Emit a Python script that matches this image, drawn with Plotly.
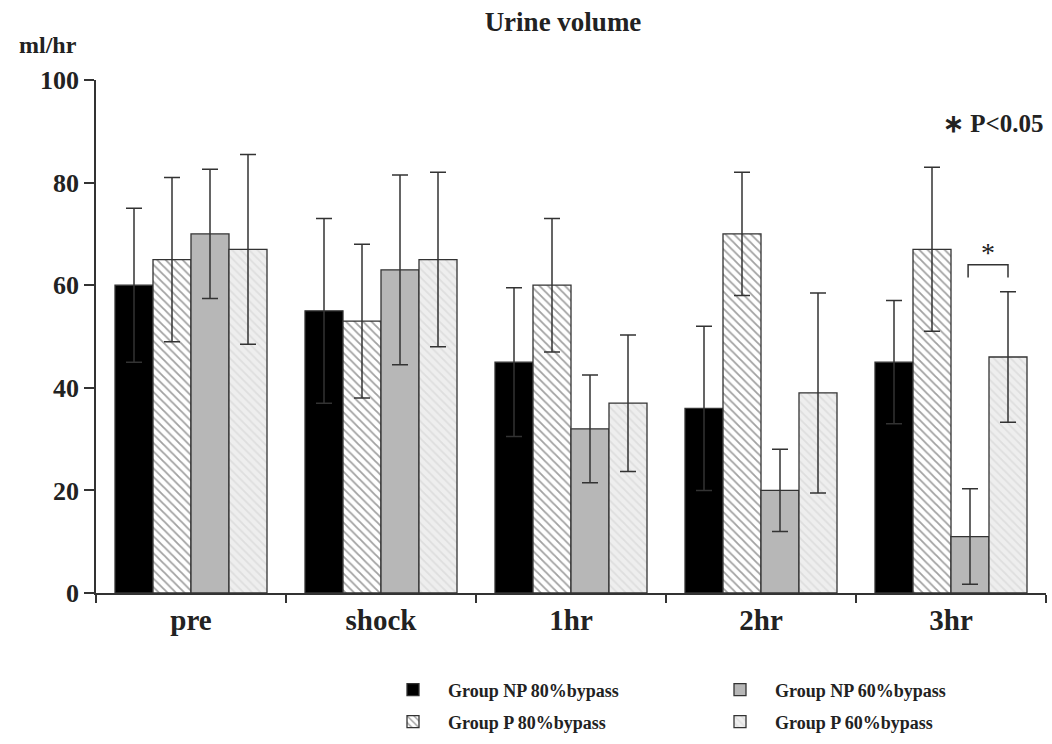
import plotly.graph_objects as go

categories = ["pre", "shock", "1hr", "2hr", "3hr"]
series_names = ["Group NP 80%bypass", "Group P 80%bypass", "Group NP 60%bypass", "Group P 60%bypass"]
np80 = [60, 55, 45, 36, 45]
np80_sd = [15, 18, 14.5, 16, 12]
p80 = [65, 53, 60, 70, 67]
p80_sd = [16, 15, 13, 12, 16]
np60 = [70, 63, 32, 20, 11]
np60_sd = [12.6, 18.5, 10.5, 8, 9.3]
p60 = [67, 65, 37, 39, 46]
p60_sd = [18.5, 17, 13.3, 19.5, 12.7]
y_ticks = [0, 20, 40, 60, 80, 100]

FONT = "Liberation Serif"
OUT = "#333333"
ERR = "#333333"

styles = [
    dict(color="#000000", pattern=None, legend="legend", rank=1),
    dict(color="#ffffff", pattern=dict(shape="\\", fgcolor="#444444", bgcolor="#ffffff", size=6, solidity=0.3), legend="legend2", rank=3),
    dict(color="#b7b7b7", pattern=None, legend="legend", rank=2),
    dict(color="#eeeeee", pattern=dict(shape="\\", fgcolor="#cdcdcd", bgcolor="#eeeeee", size=6, solidity=0.3), legend="legend2", rank=4),
]
values = [np80, p80, np60, p60]
sds = [np80_sd, p80_sd, np60_sd, p60_sd]

fig = go.Figure()
for name, vals, sd, st in zip(series_names, values, sds, styles):
    marker = dict(color=st["color"], line=dict(color=OUT, width=1.3))
    if st["pattern"]:
        marker["pattern"] = st["pattern"]
    fig.add_trace(go.Bar(
        x=categories, y=vals, name=f"<b>{name}</b>", marker=marker,
        error_y=dict(type="data", array=sd, symmetric=True, color=ERR, thickness=1.5, width=8),
        legend=st["legend"], legendrank=st["rank"],
    ))

# significance bracket at 3hr between NP60 (trace 3) and P60 (trace 4)
n = len(series_names)
group_w = 0.8
bw = group_w / n
idx = categories.index("3hr")
xa = idx - group_w / 2 + bw * 2 + bw / 2 - 0.01
xb = idx - group_w / 2 + bw * 3 + bw / 2
fig.add_shape(type="path", xref="x", yref="y",
              path=f"M {xa},61.5 L {xa},64 L {xb},64 L {xb},61.5",
              line=dict(color=ERR, width=1.5))
fig.add_annotation(x=(xa + xb) / 2, y=64, xref="x", yref="y", text="*", showarrow=False,
                   yanchor="bottom", yshift=-5, font=dict(family=FONT, size=28, color="#222"))

# P<0.05 label
fig.add_annotation(x=(1046 - 96) / 950, y=(593 - 123) / 513, xref="paper", yref="paper",
                   text="<b>∗ P&lt;0.05</b>", showarrow=False, xanchor="right", yanchor="middle",
                   font=dict(family=FONT, size=25, color="#222"))
# unit label
fig.add_annotation(x=(48 - 96) / 950, y=(593 - 45) / 513, xref="paper", yref="paper",
                   text="<b>ml/hr</b>", showarrow=False, xanchor="center", yanchor="middle",
                   font=dict(family=FONT, size=24, color="#222"))

leg_common = dict(orientation="h", xref="container", yref="container",
                  xanchor="left", yanchor="middle", entrywidth=252, entrywidthmode="pixels",
                  itemwidth=60, font=dict(family=FONT, size=18, color="#222"),
                  bgcolor="rgba(0,0,0,0)")

fig.update_layout(
    width=1052, height=744,
    margin=dict(l=96, r=6, t=80, b=151),
    paper_bgcolor="white", plot_bgcolor="white",
    barmode="group", bargap=1 - group_w, bargroupgap=0,
    title=dict(text="<b>Urine volume</b>", x=563 / 1052, xanchor="center", y=1 - 22 / 744, yanchor="middle",
               font=dict(family=FONT, size=27, color="#222")),
    font=dict(family=FONT, color="#222"),
    xaxis=dict(range=[-0.5, 4.5], showline=True, linecolor=OUT, linewidth=1.5,
               ticks="outside", tickson="boundaries", ticklen=8, tickcolor=OUT, tickwidth=1.5,
               tickvals=categories, ticktext=[f"<b>{c}</b>" for c in categories],
               tickfont=dict(family=FONT, size=29, color="#222"), showgrid=False, zeroline=False),
    yaxis=dict(range=[0, 100], tickvals=y_ticks, ticktext=[f"<b>{v}</b>" for v in y_ticks],
               showline=True, linecolor=OUT, linewidth=1.5,
               ticks="outside", ticklen=10, tickcolor=OUT, tickwidth=1.5,
               tickfont=dict(family=FONT, size=26, color="#222"), showgrid=False, zeroline=False),
    legend=dict(leg_common, x=378 / 1052, y=1 - 690 / 744),
    legend2=dict(leg_common, x=378 / 1052, y=1 - 722 / 744),
)

fig.write_html("out.html", config={"displayModeBar": False},
               post_script="document.body.style.margin='0';")
